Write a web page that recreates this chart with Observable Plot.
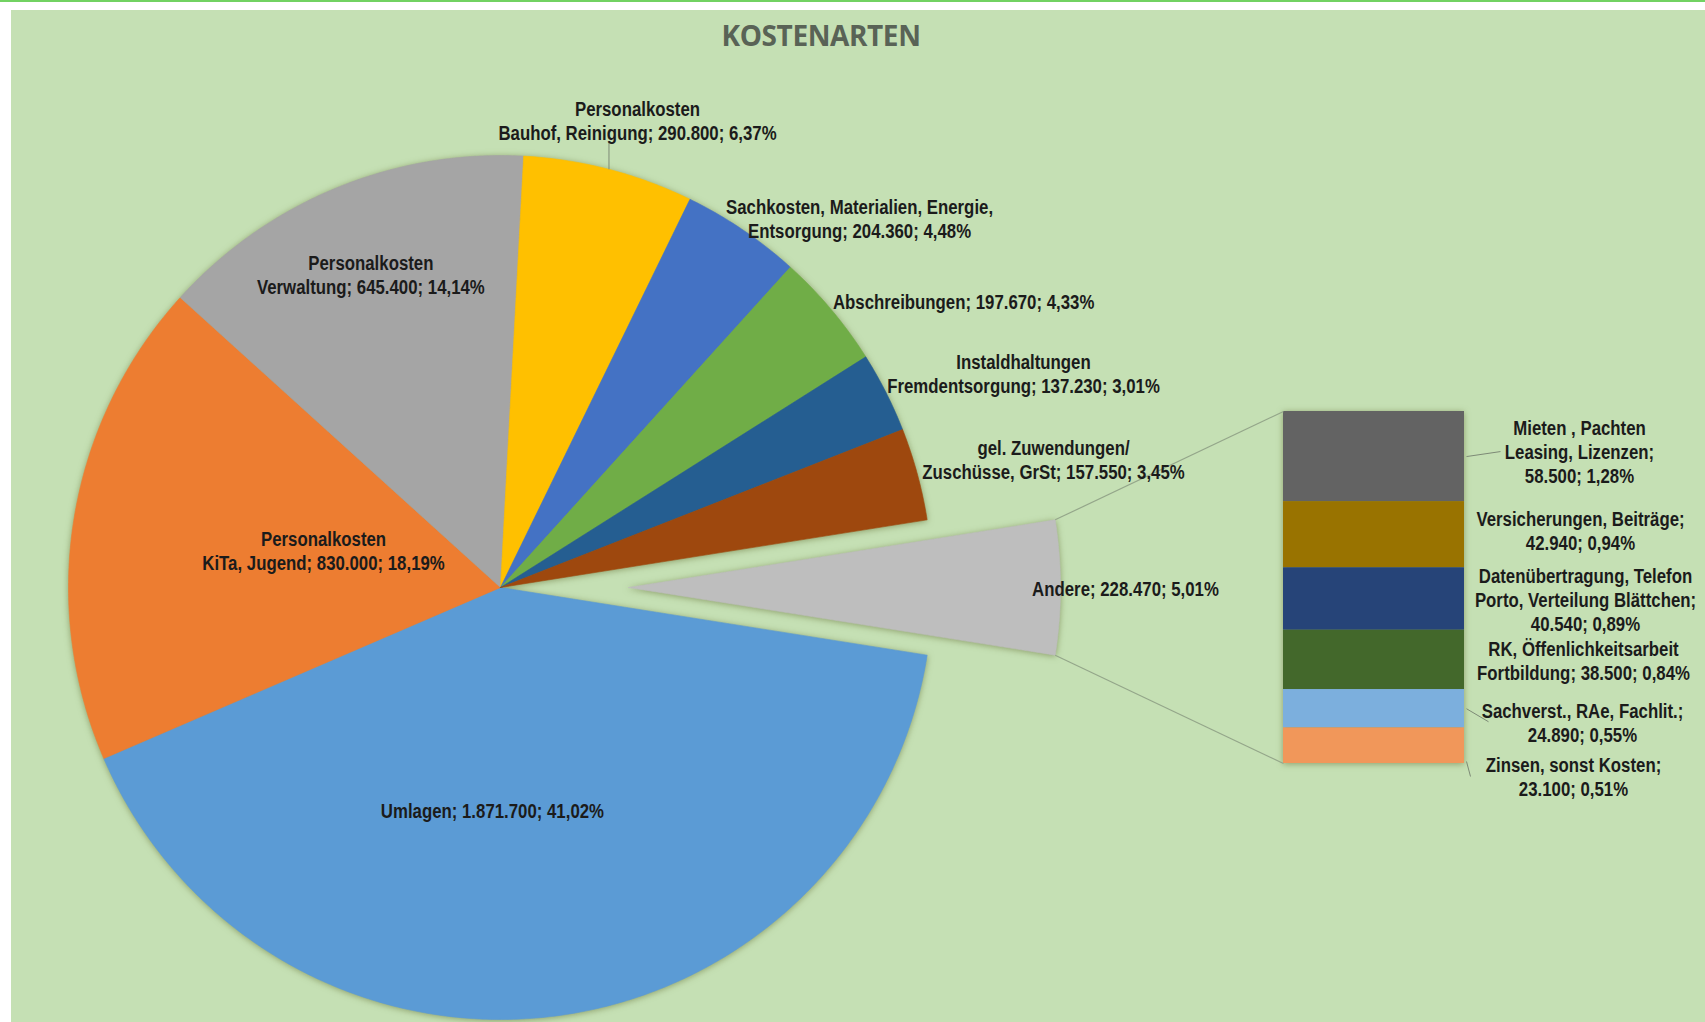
<!DOCTYPE html>
<html>
<head>
<meta charset="utf-8">
<script src="https://cdn.jsdelivr.net/npm/d3@7"></script>
<script src="https://cdn.jsdelivr.net/npm/@observablehq/plot@0.6"></script>
<style>
  html, body { margin: 0; padding: 0; background: #ffffff; width: 1705px; height: 1022px; overflow: hidden; }
  #topline { position: absolute; left: 0; top: 0; width: 1705px; height: 2px; background: #72d262; }
  #panel { position: absolute; left: 11px; top: 10px; width: 1694px; height: 1012px; background: #C5E0B4; }
  #title { position: absolute; left: 510px; top: 9px; width: 600px; height: 32px; line-height: 32px; text-align: center;
           font-family: "Open Sans", sans-serif; font-weight: 700; font-size: 28px; color: #596356; letter-spacing: -0.4px; }
  #chart { position: absolute; left: 0; top: 60px; }
</style>
</head>
<body>
<div id="topline"></div>
<div id="panel">
  <div id="title">KOSTENARTEN</div>
  <div id="chart"></div>
</div>
<script>
// ---------- DATA ----------
const mainKeys = ["Umlagen", "KiTa", "Verwaltung", "Bauhof", "Sachkosten", "Abschreibungen", "Instandhaltung", "Zuwendungen", "Andere"];
const mainNames = [
  "Umlagen",
  "Personalkosten\nKiTa, Jugend",
  "Personalkosten\nVerwaltung",
  "Personalkosten\nBauhof, Reinigung",
  "Sachkosten, Materialien, Energie,\nEntsorgung",
  "Abschreibungen",
  "Instaldhaltungen\nFremdentsorgung",
  "gel. Zuwendungen/\nZuschüsse, GrSt",
  "Andere"
];
const mainValues = [1871700, 830000, 645400, 290800, 204360, 197670, 137230, 157550, 228470];

const subKeys = ["Mieten", "Versicherungen", "Daten", "RK", "Sachverst", "Zinsen"];
const subNames = [
  "Mieten , Pachten\nLeasing, Lizenzen",
  "Versicherungen, Beiträge",
  "Datenübertragung, Telefon\nPorto, Verteilung Blättchen",
  "RK, Öffenlichkeitsarbeit\nFortbildung",
  "Sachverst., RAe, Fachlit.",
  "Zinsen, sonst Kosten"
];
const subValues = [58500, 42940, 40540, 38500, 24890, 23100];

// ---------- STYLE / LAYOUT ----------
const mainColors = ["#5B9BD5", "#ED7D31", "#A5A5A5", "#FFC000", "#4472C4", "#70AD47", "#255E91", "#9E480E", "#BEBEBE"];
const subColors = ["#636363", "#997300", "#264478", "#43682B", "#7CAFDD", "#F1975A"];
const valueOnNewLine = [false, false, false, false, false, false, false, false, false];
const subValueOnNewLine = [true, true, true, false, true, true];

const pieCX = 500, pieCY = 587, R = 432, explode = 128;
const barLeft = 1283, barRight = 1464, barTop = 411, barHeight = 352;
// label placement: polar anchor (fraction of radius at slice mid-angle) plus nudge
const mainLabelLayout = [
  {k: 0.5, dx: -35, dy: 8},
  {k: 0.4, dx: -6.5, dy: -9},
  {k: 0.8, dx: 2, dy: 6},
  {k: 1.12, dx: 15.5, dy: 1},
  {k: 1, dx: 117, dy: -11.6},
  {k: 1, dx: 132.5, dy: -7.8},
  {k: 1, dx: 137.6, dy: -19.3},
  {k: 1, dx: 136.2, dy: -14.9},
  {k: 1, dx: 65, dy: 1}
];
const subLabelLayout = [
  {dx: 115, dy: -5}, {dx: 116, dy: -4.7}, {dx: 121, dy: 0.5},
  {dx: 119, dy: 0.6}, {dx: 118, dy: 13.8}, {dx: 109, dy: 31}
];
const labelFont = `"Liberation Sans", Arial, sans-serif`;
const labelSize = 20.5;
const narrow = 0.82; // horizontal compression to mimic a narrow face

// ---------- DERIVED ----------
const loc = d3.formatLocale({decimal: ",", thousands: ".", grouping: [3], currency: ["", "€"]});
const fmtNum = loc.format(",d");
const fmtPct = loc.format(".2f");
const total = d3.sum(mainValues);

const start = Math.PI / 2 + Math.PI * mainValues[8] / total;
const arcs = d3.pie().sort(null).startAngle(start).endAngle(start + 2 * Math.PI)(mainValues);

const polar = (cx, cy, r, a) => [cx + r * Math.sin(a), cy - r * Math.cos(a)];

const piePts = [];
const centers = [];
arcs.forEach((a, i) => {
  const mid = (a.startAngle + a.endAngle) / 2;
  const off = mainKeys[i] === "Andere" ? explode : 0;
  const [cx, cy] = polar(pieCX, pieCY, off, mid);
  centers.push({cx, cy, mid, a0: a.startAngle, a1: a.endAngle});
  const n = Math.max(4, Math.ceil((a.endAngle - a.startAngle) / (Math.PI / 360)));
  piePts.push({key: mainKeys[i], x: cx, y: cy});
  for (let j = 0; j <= n; j++) {
    const t = a.startAngle + (a.endAngle - a.startAngle) * j / n;
    const [x, y] = polar(cx, cy, R, t);
    piePts.push({key: mainKeys[i], x, y});
  }
  piePts.push({key: mainKeys[i], x: cx, y: cy});
});

const mainLabels = mainKeys.map((k, i) => {
  const c = centers[i], L = mainLabelLayout[i];
  const [x, y] = polar(c.cx, c.cy, R * L.k, c.mid);
  const val = fmtNum(mainValues[i]) + "; " + fmtPct(mainValues[i] / total * 100) + "%";
  return {x: x + L.dx, y: y + L.dy, text: mainNames[i] + (valueOnNewLine[i] ? ";\n" : "; ") + val};
});

const subTotal = d3.sum(subValues);
const cum = d3.cumsum(subValues);
const barData = subKeys.map((k, i) => ({
  key: k,
  y1: barTop + (cum[i] - subValues[i]) / subTotal * barHeight,
  y2: barTop + cum[i] / subTotal * barHeight
}));
const subLabels = subKeys.map((k, i) => {
  const L = subLabelLayout[i];
  const ym = (barData[i].y1 + barData[i].y2) / 2;
  const val = fmtNum(subValues[i]) + "; " + fmtPct(subValues[i] / total * 100) + "%";
  return {x: barRight + L.dx, y: ym + L.dy, text: subNames[i] + (subValueOnNewLine[i] ? ";\n" : "; ") + val};
});

// connectors from the exploded "Andere" slice to the bar
const ca = centers[8];
const [tx, ty] = polar(ca.cx, ca.cy, R, ca.a0);
const [bx, by] = polar(ca.cx, ca.cy, R, ca.a1);
const connectors = [
  {x1: tx, y1: ty, x2: barLeft, y2: barTop},
  {x1: bx, y1: by, x2: barLeft, y2: barTop + barHeight}
];
// leader lines
const cb = centers[3];
const [lx, ly] = polar(cb.cx, cb.cy, R, cb.mid);
const mid0 = (barData[0].y1 + barData[0].y2) / 2, mid4 = (barData[4].y1 + barData[4].y2) / 2;
const leaders = [
  {x1: lx, y1: ly, x2: lx, y2: ly - 28},
  {x1: barRight + 2, y1: mid0, x2: barRight + 36, y2: mid0 - 5},
  {x1: barRight + 2, y1: mid4, x2: barRight + 24, y2: mid4 + 13},
  {x1: barRight + 2, y1: barData[5].y2 - 2, x2: barRight + 6, y2: barData[5].y2 + 13}
];

const textOpts = {x: "x", y: "y", text: "text", fontFamily: labelFont, fontSize: labelSize, fontWeight: "bold",
  lineHeight: 1.17, lineAnchor: "middle", textAnchor: "middle", fill: "#1b1b1b"};

const chart = Plot.plot({
  width: 1694,
  height: 952,
  margin: 0,
  x: {domain: [11, 1705], axis: null},
  y: {domain: [70, 1022], reverse: true, axis: null},
  color: {domain: [...mainKeys, ...subKeys], range: [...mainColors, ...subColors]},
  style: {background: "transparent", overflow: "visible"},
  marks: [
    Plot.line(piePts, {x: "x", y: "y", z: "key", fill: "key", stroke: "key", strokeWidth: 0.6}),
    Plot.rect(barData, {x1: () => barLeft, x2: () => barRight, y1: "y1", y2: "y2", fill: "key"}),
    Plot.link(connectors, {x1: "x1", y1: "y1", x2: "x2", y2: "y2", stroke: "#94a68a", strokeWidth: 1.2}),
    Plot.link(leaders, {x1: "x1", y1: "y1", x2: "x2", y2: "y2", stroke: "#7d8a76", strokeWidth: 1}),
    Plot.text(mainLabels, textOpts),
    Plot.text(subLabels, textOpts)
  ]
});
chart.querySelectorAll('g[aria-label="line"], g[aria-label="rect"]').forEach(g => {
  g.style.filter = "drop-shadow(0px 1px 3px rgba(95,105,45,0.55))";
});
// compress label glyphs horizontally (narrow face look)
chart.querySelectorAll('g[aria-label="text"] text').forEach(t => {
  const tr = t.getAttribute("transform") || "";
  t.setAttribute("transform", tr + ` scale(${narrow},1)`);
});
document.getElementById("chart").appendChild(chart);
</script>
</body>
</html>
